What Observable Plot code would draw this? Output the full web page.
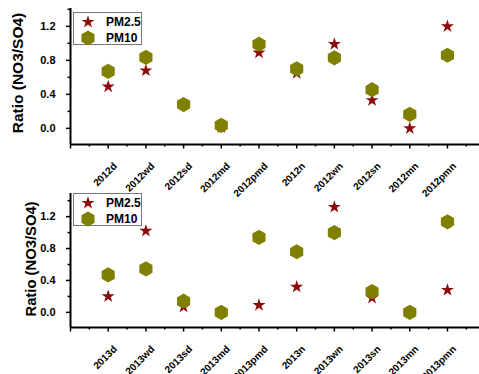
<!DOCTYPE html>
<html><head><meta charset="utf-8">
<script src="https://cdn.jsdelivr.net/npm/d3@7"></script>
<script src="https://cdn.jsdelivr.net/npm/@observablehq/plot@0.6"></script>
<style>
body{margin:0;background:#fff;font-family:"Liberation Sans",Arial,sans-serif;}
#wrap{position:relative;width:479px;height:374px;overflow:hidden;background:#fff;}
.panel{position:absolute;left:0;line-height:0;}
.ytitle{position:absolute;font-weight:bold;white-space:nowrap;transform:translate(-50%,-50%) rotate(-90deg);color:#000;z-index:3;line-height:1;}
.legend{position:absolute;border:1px solid #777;background:#fff;box-sizing:border-box;z-index:3;}
.legend svg{position:absolute;overflow:visible;}
.legend span{position:absolute;font-weight:bold;font-size:12px;line-height:12px;color:#000;}
</style></head><body><div id="wrap"></div>
<script>
const categories2012 = ["2012d","2012wd","2012sd","2012md","2012pmd","2012n","2012wn","2012sn","2012mn","2012pmn"];
const pm25_2012 = [0.49,0.68,0.28,0.01,0.89,0.65,0.99,0.33,0.00,1.20];
const pm10_2012 = [0.67,0.835,0.28,0.035,0.99,0.70,0.83,0.455,0.165,0.86];

const categories2013 = ["2013d","2013wd","2013sd","2013md","2013pmd","2013n","2013wn","2013sn","2013mn","2013pmn"];
const pm25_2013 = [0.20,1.02,0.07,0.00,0.09,0.32,1.32,0.18,0.00,0.28];
const pm10_2013 = [0.47,0.545,0.14,0.00,0.94,0.76,1.00,0.26,0.00,1.135];

const yMajorTicks = [0, 0.4, 0.8, 1.2];
const yMinorTicks = [0.2, 0.6, 1.0, 1.4];
const seriesNames = ["PM2.5", "PM10"];
const yTitle = "Ratio (NO3/SO4)";

const starColor = "#8b0a0a";
const hexColor = "#808000";
const starR = 4.1;
const hexR = 7.6;

const hexagon = {
  draw(ctx, size) {
    const R = Math.sqrt(size / Math.PI);
    const a = R * Math.sqrt(3) / 2;
    ctx.moveTo(0, -R);
    ctx.lineTo(a, -R / 2);
    ctx.lineTo(a, R / 2);
    ctx.lineTo(0, R);
    ctx.lineTo(-a, R / 2);
    ctx.lineTo(-a, -R / 2);
    ctx.closePath();
  }
};

const wrap = document.getElementById("wrap");

function panel(cats, pm25, pm10, opts) {
  const n = cats.length;
  const majorX = d3.range(0, n + 1);
  const minorX = d3.range(0, n + 1).map(i => i + 0.5).filter(v => v < n + 0.85);
  const y0 = opts.yDomain[0];
  const p = Plot.plot({
    width: 479,
    height: opts.height,
    marginLeft: 70,
    marginRight: 0,
    marginTop: opts.marginTop,
    marginBottom: opts.marginBottom,
    style: {fontFamily: "Liberation Sans, Arial, sans-serif", background: "transparent", overflow: "visible"},
    x: {domain: [0, n + 0.85], axis: null},
    y: {domain: opts.yDomain, axis: null},
    marks: [
      Plot.axisY({ticks: yMajorTicks, tickFormat: d3.format(".1f"), tickSize: 4, tickPadding: 11, fontSize: 11, fontWeight: "bold", strokeWidth: 1.5, label: null}),
      Plot.axisY({ticks: yMinorTicks, tickFormat: () => "", tickSize: 2.5, strokeWidth: 1.5, label: null}),
      Plot.axisX({ticks: majorX, tickFormat: () => "", tickSize: 4.5, strokeWidth: 1.5, label: null}),
      Plot.axisX({ticks: minorX, tickFormat: () => "", tickSize: 2.5, strokeWidth: 1.5, label: null}),
      Plot.text(cats, {x: (d, i) => i + 1, y: () => y0, text: d => d, rotate: -45, textAnchor: "end", lineAnchor: "middle", dx: 7, dy: 20, fontSize: 10, fontWeight: "bold", fill: "black"}),
      Plot.ruleX([0], {stroke: "black", strokeWidth: 2}),
      Plot.ruleY([y0], {stroke: "black", strokeWidth: 2}),
      Plot.dot(pm25, {x: (d, i) => i + 1, y: d => d, symbol: "star", r: starR, fill: starColor, stroke: null}),
      Plot.dot(pm10, {x: (d, i) => i + 1, y: d => d, symbol: hexagon, r: hexR, fill: hexColor, stroke: null})
    ]
  });
  const div = document.createElement("div");
  div.className = "panel";
  div.style.top = opts.top + "px";
  div.style.zIndex = opts.z;
  div.appendChild(p);
  wrap.appendChild(div);

  const t = document.createElement("div");
  t.className = "ytitle";
  t.textContent = yTitle;
  t.style.fontSize = opts.titleSize + "px";
  t.style.left = opts.titleX + "px";
  t.style.top = (opts.top + opts.titleY) + "px";
  wrap.appendChild(t);

  const lg = document.createElement("div");
  lg.className = "legend";
  lg.style.left = "73px";
  lg.style.top = (opts.top + opts.legendTop) + "px";
  lg.style.width = "69px";
  lg.style.height = "33px";
  const syms = [d3.symbol(d3.symbolStar, Math.PI * starR * starR)(), d3.symbol(hexagon, Math.PI * hexR * hexR)()];
  const cols = [starColor, hexColor];
  seriesNames.forEach((name, k) => {
    const s = document.createElementNS("http://www.w3.org/2000/svg", "svg");
    s.setAttribute("width", "1"); s.setAttribute("height", "1");
    s.style.left = "14px"; s.style.top = (9 + k * 16) + "px";
    const path = document.createElementNS("http://www.w3.org/2000/svg", "path");
    path.setAttribute("d", syms[k]); path.setAttribute("fill", cols[k]);
    s.appendChild(path); lg.appendChild(s);
    const sp = document.createElement("span");
    sp.textContent = name;
    sp.style.left = "32px"; sp.style.top = (3 + k * 16) + "px";
    lg.appendChild(sp);
  });
  wrap.appendChild(lg);
}

panel(categories2013, pm25_2013, pm10_2013, {top: 180, z: 1, height: 194, marginTop: 13, marginBottom: 47, yDomain: [-0.19, 1.49], titleX: 30.5, titleY: 79, titleSize: 14.8, legendTop: 13});
panel(categories2012, pm25_2012, pm10_2012, {top: 0, z: 2, height: 180, marginTop: 8, marginBottom: 36, yDomain: [-0.19, 1.41], titleX: 18, titleY: 73, titleSize: 15.5, legendTop: 12});
</script></body></html>
